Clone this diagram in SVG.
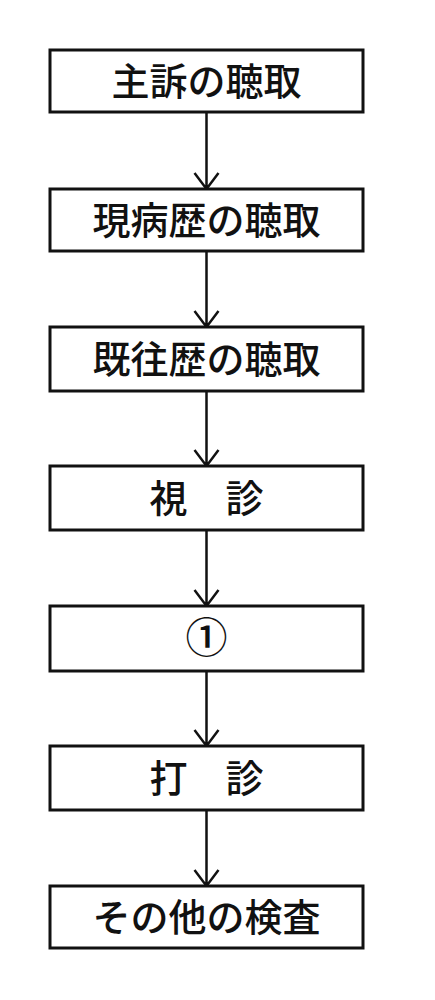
<svg xmlns="http://www.w3.org/2000/svg" width="435" height="1000" viewBox="0 0 435 1000">
<style>
.box{fill:#fff;stroke:#111;stroke-width:3}
.lbl{font-family:"Noto Sans CJK JP","Noto Sans CJK SC",sans-serif;font-size:38px;font-weight:500;fill:#111;text-anchor:middle}
.con{fill:none;stroke:#111;stroke-width:2.5}
</style>
<rect width="435" height="1000" fill="#fff"/>
<g id="connectors">
<path class="con" d="M206.5 112V189M194.5 173L206.5 189L218.5 173"/>
<path class="con" d="M206.5 251V327M194.5 311L206.5 327L218.5 311"/>
<path class="con" d="M206.5 391V466M194.5 450L206.5 466L218.5 450"/>
<path class="con" d="M206.5 530V606M194.5 590L206.5 606L218.5 590"/>
<path class="con" d="M206.5 671V746M194.5 730L206.5 746L218.5 730"/>
<path class="con" d="M206.5 810V886M194.5 870L206.5 886L218.5 870"/>
</g>
<g id="n1"><rect class="box" x="50" y="50" width="313" height="62"/><text class="lbl" x="206.5" y="95">主訴の聴取</text></g>
<g id="n2"><rect class="box" x="50" y="189" width="313" height="62"/><text class="lbl" x="206.5" y="234">現病歴の聴取</text></g>
<g id="n3"><rect class="box" x="50" y="327" width="313" height="64"/><text class="lbl" x="206.5" y="373">既往歴の聴取</text></g>
<g id="n4"><rect class="box" x="50" y="466" width="313" height="64"/><text class="lbl" x="206.5" y="512">視　診</text></g>
<g id="n5"><rect class="box" x="50" y="606" width="313" height="65"/><text class="lbl" x="206.5" y="653" style="font-size:42px">①</text></g>
<g id="n6"><rect class="box" x="50" y="746" width="313" height="64"/><text class="lbl" x="206.5" y="792">打　診</text></g>
<g id="n7"><rect class="box" x="50" y="886" width="313" height="62"/><text class="lbl" x="206.5" y="931">その他の検査</text></g>
</svg>
